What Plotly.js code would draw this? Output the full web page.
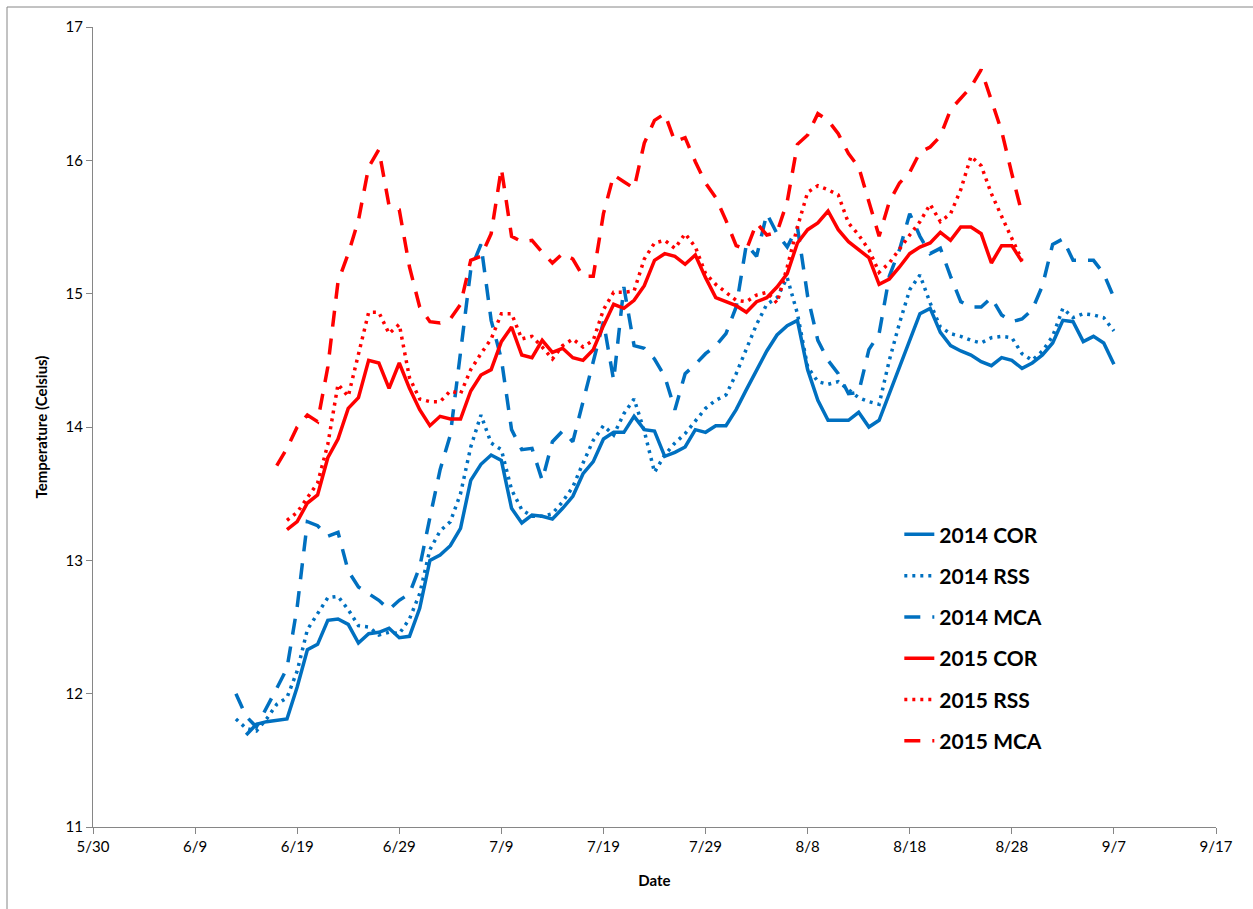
<!DOCTYPE html>
<html><head><meta charset="utf-8">
<script src="https://cdn.plot.ly/plotly-3.0.1.min.js"></script>
<style>html,body{margin:0;padding:0;background:#fff}#chart{width:1253px;height:909px}</style>
</head><body><div id="chart"></div>
<script>
// Month/day axis (both seasons plotted on the same calendar axis)
const AXIS_YEAR = 2014;
const xTickStart = '05-30';
const xRangeEnd = '09-17';

const seriesNames = ['2014 COR', '2014 RSS', '2014 MCA', '2015 COR', '2015 RSS', '2015 MCA'];
const seriesStarts = ['06-14', '06-13', '06-13', '06-18', '06-18', '06-17'];

const cor2014 = [11.69,11.77,11.79,11.80,11.81,12.05,12.33,12.37,12.55,12.56,12.52,12.38,12.45,12.46,12.49,12.42,12.43,12.64,13.00,13.04,
  13.11,13.24,13.60,13.72,13.79,13.75,13.39,13.28,13.34,13.33,13.31,13.39,13.48,13.65,13.74,13.91,13.96,13.96,14.08,13.98,
  13.97,13.78,13.81,13.85,13.98,13.96,14.01,14.01,14.13,14.28,14.43,14.57,14.69,14.76,14.80,14.43,14.20,14.05,14.05,14.05,
  14.11,14.00,14.05,14.25,14.45,14.65,14.85,14.89,14.71,14.61,14.57,14.54,14.49,14.46,14.52,14.50,14.44,14.48,14.54,14.63,
  14.80,14.79,14.64,14.68,14.63,14.47];
const rss2014 = [11.81,11.74,11.72,11.81,11.92,11.97,12.17,12.48,12.60,12.72,12.73,12.63,12.51,12.50,12.44,12.46,12.45,12.56,12.75,13.08,
  13.22,13.29,13.50,13.85,14.09,13.88,13.83,13.53,13.38,13.33,13.33,13.35,13.44,13.55,13.73,13.90,14.01,13.94,14.10,14.21,
  13.97,13.66,13.79,13.88,13.95,14.04,14.14,14.20,14.24,14.40,14.59,14.77,14.92,14.97,15.12,14.85,14.45,14.34,14.32,14.34,
  14.28,14.22,14.19,14.17,14.50,14.78,15.03,15.14,14.93,14.75,14.70,14.68,14.65,14.63,14.67,14.68,14.67,14.55,14.50,14.57,
  14.68,14.89,14.82,14.85,14.84,14.82,14.72];
const mca2014 = [12.00,11.83,11.75,11.89,12.04,12.19,12.65,13.29,13.26,13.18,13.21,12.92,12.80,12.75,12.70,12.63,12.70,12.75,12.95,13.32,
  13.68,13.94,14.55,15.18,15.37,14.80,14.51,13.98,13.83,13.84,13.60,13.89,13.97,13.89,14.19,14.50,14.79,14.35,15.05,14.61,
  14.59,14.51,14.38,14.13,14.40,14.47,14.55,14.61,14.70,14.90,15.37,15.28,15.60,15.45,15.35,15.50,14.98,14.65,14.50,14.40,
  14.25,14.26,14.58,14.70,15.13,15.33,15.60,15.43,15.30,15.34,15.13,14.94,14.90,14.90,14.97,14.84,14.79,14.81,14.88,15.06,
  15.37,15.41,15.25,15.25,15.25,15.15,14.97];
const cor2015 = [13.23,13.29,13.43,13.49,13.77,13.91,14.14,14.22,14.50,14.48,14.29,14.48,14.29,14.13,14.01,14.08,14.06,14.06,14.27,14.39,
  14.43,14.64,14.75,14.54,14.52,14.65,14.56,14.59,14.52,14.50,14.58,14.76,14.92,14.89,14.95,15.06,15.25,15.30,15.28,15.22,
  15.29,15.12,14.97,14.94,14.91,14.86,14.94,14.97,15.05,15.15,15.38,15.48,15.53,15.62,15.48,15.39,15.33,15.27,15.07,15.11,
  15.20,15.30,15.35,15.38,15.46,15.40,15.50,15.50,15.45,15.23,15.36,15.36,15.24];
const rss2015 = [13.30,13.36,13.47,13.58,13.87,14.32,14.23,14.55,14.86,14.86,14.70,14.77,14.37,14.21,14.19,14.19,14.27,14.25,14.43,14.55,
  14.66,14.85,14.85,14.66,14.68,14.60,14.51,14.61,14.66,14.60,14.65,14.88,15.01,15.01,15.02,15.26,15.38,15.40,15.34,15.45,
  15.35,15.15,15.07,15.01,14.95,14.94,14.99,15.01,14.93,15.20,15.50,15.76,15.81,15.78,15.74,15.53,15.44,15.33,15.16,15.23,
  15.34,15.44,15.54,15.67,15.54,15.60,15.78,16.03,15.96,15.75,15.58,15.42,15.25];
const mca2015 = [13.71,13.84,14.00,14.09,14.04,14.45,15.09,15.30,15.55,15.95,16.08,15.66,15.63,15.20,14.90,14.79,14.78,14.81,14.92,15.25,
  15.28,15.45,15.94,15.43,15.39,15.40,15.31,15.23,15.30,15.26,15.13,15.13,15.60,15.89,15.84,15.79,16.13,16.30,16.35,16.14,
  16.17,15.99,15.83,15.72,15.55,15.36,15.33,15.53,15.44,15.46,15.69,16.12,16.19,16.35,16.30,16.20,16.05,15.95,15.69,15.43,
  15.69,15.83,15.91,16.06,16.10,16.18,16.38,16.47,16.55,16.68,16.44,16.22,15.90,15.60];

const seriesValues = [cor2014, rss2014, mca2014, cor2015, rss2015, mca2015];
const seriesColors = ['#0070C0', '#0070C0', '#0070C0', '#FF0000', '#FF0000', '#FF0000'];
const seriesDash = ['solid', '3px,5px', '16px,12px', 'solid', '3px,5px', '16px,12px'];

function dailyDates(startMD, n) {
  const [m, d] = startMD.split('-').map(Number);
  const out = [];
  for (let i = 0; i < n; i++) {
    const dt = new Date(Date.UTC(AXIS_YEAR, m - 1, d + i));
    out.push(dt.toISOString().slice(0, 10));
  }
  return out;
}

const FONT = 'Lato, "Open Sans", "Liberation Sans", sans-serif';

const traces = seriesNames.map((name, i) => ({
  type: 'scatter',
  mode: 'lines',
  name: '<b>' + name + '</b>',
  legendgroup: 'g' + i,
  x: dailyDates(seriesStarts[i], seriesValues[i].length),
  y: seriesValues[i],
  line: {color: seriesColors[i], width: 3.5, dash: seriesDash[i]},
  hoverinfo: 'x+y+name'
}));

const axisColor = '#868686';
const layout = {
  width: 1253, height: 909,
  margin: {l: 93, r: 37, t: 27, b: 82},
  paper_bgcolor: '#ffffff', plot_bgcolor: '#ffffff',
  font: {family: FONT, color: '#000000', size: 15},
  showlegend: true,
  legend: {
    x: 0.718, xanchor: 'left', y: 0.391, yanchor: 'top',
    font: {family: FONT, size: 21, color: '#000000'},
    tracegroupgap: 11, traceorder: 'grouped',
    bgcolor: 'rgba(0,0,0,0)'
  },
  xaxis: {
    type: 'date',
    range: [AXIS_YEAR + '-' + xTickStart, AXIS_YEAR + '-' + xRangeEnd],
    tick0: AXIS_YEAR + '-' + xTickStart,
    dtick: 10 * 86400000,
    tickformat: '%-m/%-d',
    showgrid: false, zeroline: false,
    showline: true, linecolor: axisColor, linewidth: 1,
    ticks: 'outside', ticklen: 6, tickcolor: axisColor,
    tickfont: {family: FONT, size: 15, color: '#000'},
    title: {text: '<b>Date</b>', font: {family: FONT, size: 15, color: '#000'}, standoff: 21}
  },
  yaxis: {
    range: [11, 17], dtick: 1, tick0: 11,
    showgrid: false, zeroline: false,
    showline: true, linecolor: axisColor, linewidth: 1,
    ticks: 'outside', ticklen: 6, tickcolor: axisColor,
    tickfont: {family: FONT, size: 15, color: '#000'},
    title: {text: '<b>Temperature (Celsius)</b>', font: {family: FONT, size: 15, color: '#000'}, standoff: 14}
  },
  shapes: [{
    type: 'rect', xref: 'paper', yref: 'paper', layer: 'below',
    x0: (7 - 93) / 1123, x1: (1262 - 93) / 1123,
    y0: -(920 - 827) / 800, y1: 1 + (27 - 7) / 800,
    line: {color: axisColor, width: 1}, fillcolor: 'rgba(0,0,0,0)'
  }]
};

Plotly.newPlot('chart', traces, layout, {displayModeBar: false, responsive: false});
</script>
</body></html>
